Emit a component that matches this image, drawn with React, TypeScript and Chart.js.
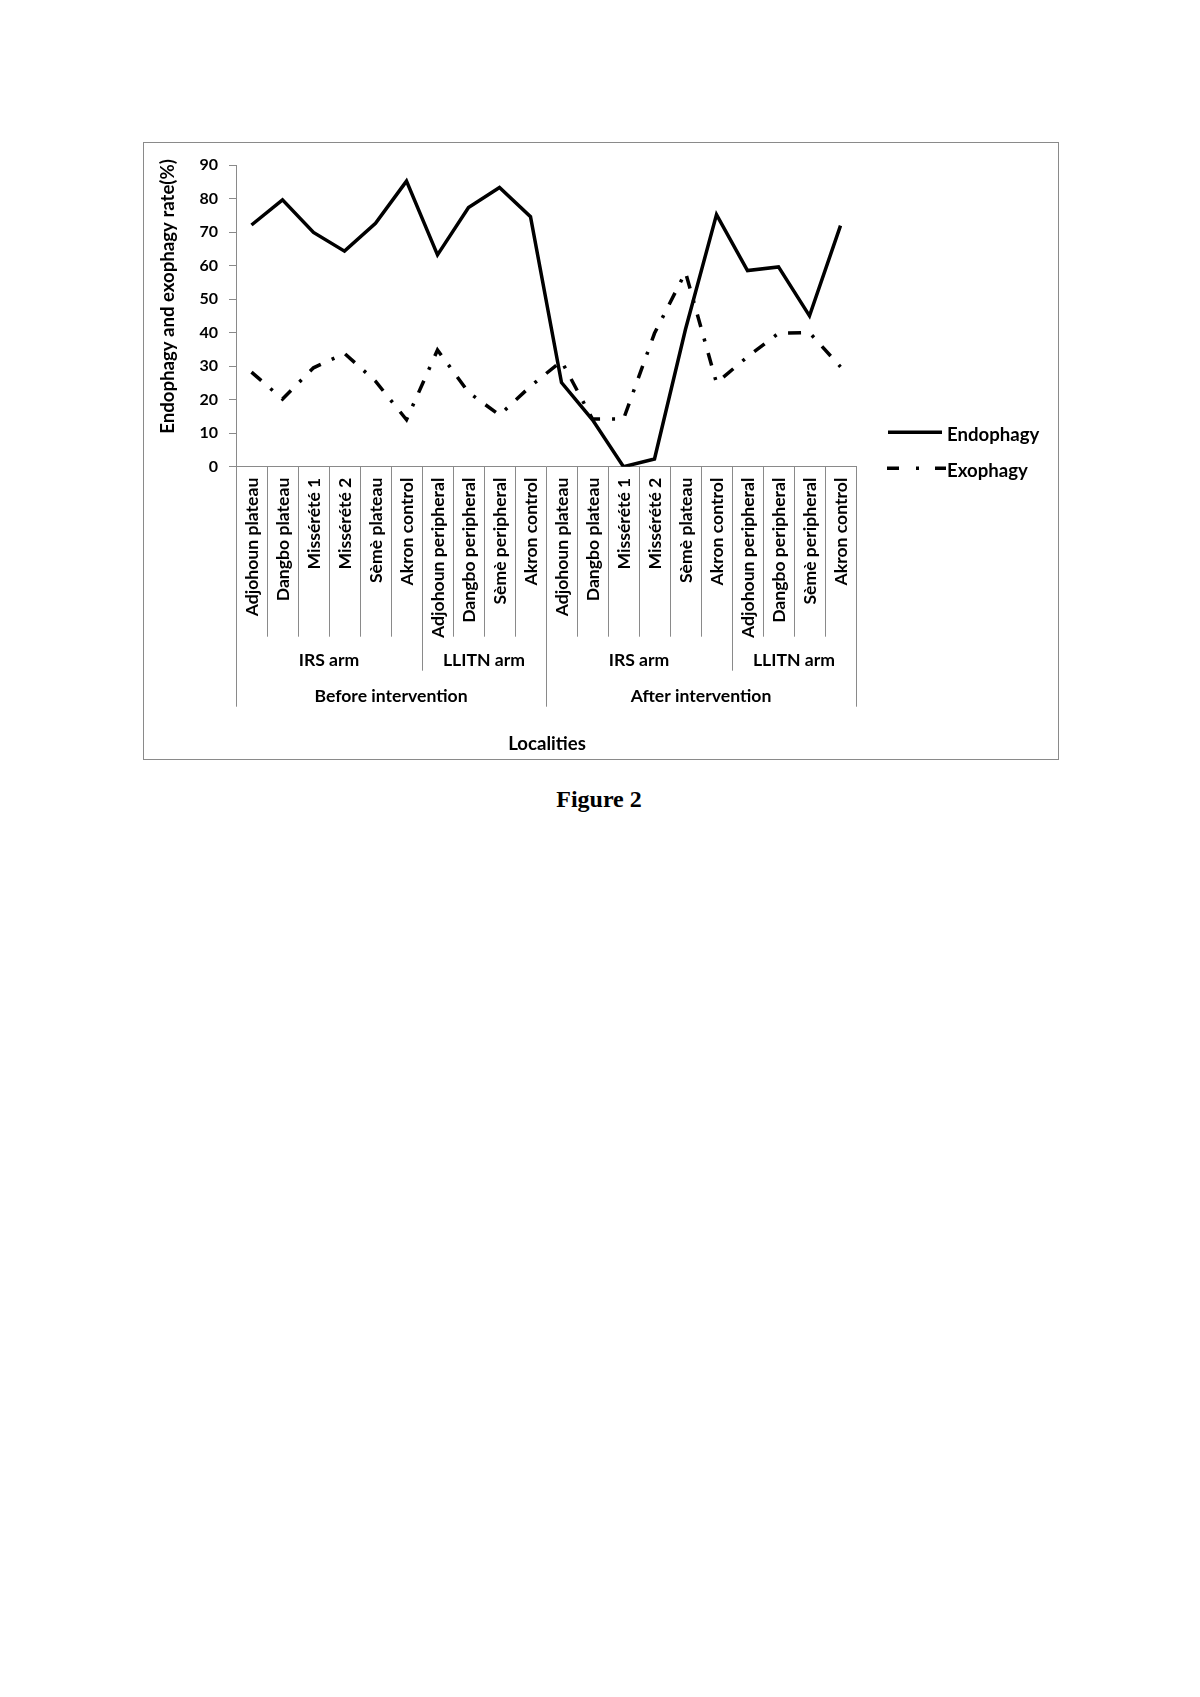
import React, { useEffect, useRef } from 'react';
import { Chart, registerables } from 'chart.js';

Chart.register(...registerables);

// ---- Data ----
const categories = [
  'Adjohoun plateau', 'Dangbo plateau', 'Missérété 1', 'Missérété 2', 'Sèmè plateau', 'Akron control',
  'Adjohoun peripheral', 'Dangbo peripheral', 'Sèmè peripheral', 'Akron control',
  'Adjohoun plateau', 'Dangbo plateau', 'Missérété 1', 'Missérété 2', 'Sèmè plateau', 'Akron control',
  'Adjohoun peripheral', 'Dangbo peripheral', 'Sèmè peripheral', 'Akron control',
];
const armLabels = ['IRS arm', 'LLITN arm', 'IRS arm', 'LLITN arm'];
const armSizes = [6, 4, 6, 4];
const periodLabels = ['Before intervention', 'After intervention'];
const periodSizes = [10, 10];

const endophagy = [72.1, 79.6, 69.9, 64.3, 72.6, 85.2, 63.2, 77.3, 83.3, 74.6, 25.1, 14.0, 0, 2.3, 41.0, 75.2, 58.5, 59.6, 45.0, 71.9];
const exophagy = [28.2, 20.2, 29.5, 33.8, 25.5, 14.0, 34.8, 22.2, 15.4, 24.0, 31.5, 14.2, 14.2, 39.8, 58.0, 25.0, 32.8, 39.8, 40.0, 29.8];

const yTicksMin = 0;
const yTicksMax = 90;
const yTicksStep = 10;

const seriesNames = ['Endophagy', 'Exophagy'];
const yTitle = 'Endophagy and exophagy rate(%)';
const xTitle = 'Localities';

const FONT = 'Lato';
const GRID = '#8a8a8a';

const hierPlugin = {
  id: 'hierAxis',
  afterDraw(chart: any) {
    const ctx = chart.ctx as CanvasRenderingContext2D;
    const xs = chart.scales.x;
    const area = chart.chartArea;
    const n = categories.length;
    const w = xs.getPixelForValue(1) - xs.getPixelForValue(0);
    const edge = (i: number) => (i < n ? xs.getPixelForValue(i) - w / 2 : xs.getPixelForValue(n - 1) + w / 2);

    const armBounds = new Set<number>();
    let acc = 0;
    armBounds.add(0);
    armSizes.forEach((s) => { acc += s; armBounds.add(acc); });
    const periodBounds = new Set<number>();
    acc = 0;
    periodBounds.add(0);
    periodSizes.forEach((s) => { acc += s; periodBounds.add(acc); });

    ctx.save();
    // dividers
    ctx.strokeStyle = GRID;
    ctx.lineWidth = 1;
    for (let b = 0; b <= n; b++) {
      let depth = 170;
      if (armBounds.has(b)) depth = 204;
      if (periodBounds.has(b)) depth = 240;
      const x = Math.round(edge(b)) + 0.5;
      ctx.beginPath();
      ctx.moveTo(x, area.bottom);
      ctx.lineTo(x, area.bottom + depth);
      ctx.stroke();
    }

    ctx.fillStyle = '#000';
    ctx.font = `bold 17.6px ${FONT}`;
    // category labels (rotated)
    for (let i = 0; i < n; i++) {
      const x = xs.getPixelForValue(i);
      ctx.save();
      ctx.translate(x, area.bottom + 11);
      ctx.rotate(-Math.PI / 2);
      ctx.textAlign = 'right';
      ctx.textBaseline = 'middle';
      ctx.fillText(categories[i], 0, 1);
      ctx.restore();
    }

    // arm labels
    ctx.textAlign = 'center';
    ctx.textBaseline = 'alphabetic';
    acc = 0;
    armSizes.forEach((s, k) => {
      const cx = (edge(acc) + edge(acc + s)) / 2;
      ctx.fillText(armLabels[k], cx, area.bottom + 199);
      acc += s;
    });
    // period labels
    acc = 0;
    periodSizes.forEach((s, k) => {
      const cx = (edge(acc) + edge(acc + s)) / 2;
      ctx.fillText(periodLabels[k], cx, area.bottom + 235);
      acc += s;
    });
    // x title
    ctx.font = `bold 18.6px ${FONT}`;
    ctx.fillText(xTitle, (area.left + area.right) / 2 + 1, area.bottom + 283.5);

    // y title
    ctx.save();
    ctx.translate(area.left - 68, area.top + 131.5);
    ctx.rotate(-Math.PI / 2);
    ctx.textAlign = 'center';
    ctx.textBaseline = 'middle';
    ctx.fillText(yTitle, 0, 0);
    ctx.restore();

    // legend
    const tx = area.right + 91;
    const y1 = area.bottom - 34.4;
    const y2 = area.bottom + 1.6;
    ctx.strokeStyle = '#000';
    ctx.lineWidth = 3.5;
    ctx.lineCap = 'butt';
    ctx.beginPath();
    ctx.moveTo(area.right + 32, y1);
    ctx.lineTo(area.right + 86, y1);
    ctx.stroke();
    ctx.setLineDash([12, 17, 3, 16, 12, 20]);
    ctx.beginPath();
    ctx.moveTo(area.right + 31, y2);
    ctx.lineTo(area.right + 90, y2);
    ctx.stroke();
    ctx.setLineDash([]);
    ctx.textAlign = 'left';
    ctx.textBaseline = 'alphabetic';
    ctx.fillText(seriesNames[0], tx, area.bottom - 25.5);
    ctx.fillText(seriesNames[1], tx, area.bottom + 10.2);
    ctx.restore();
  },
};

export default function App() {
  const ref = useRef<HTMLCanvasElement>(null);
  useEffect(() => {
    if (!ref.current) return;
    const chart = new Chart(ref.current, {
      type: 'line',
      data: {
        labels: categories,
        datasets: [
          {
            label: seriesNames[0],
            data: endophagy,
            borderColor: '#000',
            borderWidth: 3.5,
            pointRadius: 0,
            tension: 0,
            borderJoinStyle: 'miter',
            fill: false,
          },
          {
            label: seriesNames[1],
            data: exophagy,
            borderColor: '#000',
            borderWidth: 3.5,
            borderDash: [13, 12, 3, 12],
            borderCapStyle: 'butt',
            pointRadius: 0,
            tension: 0,
            borderJoinStyle: 'miter',
            fill: false,
          },
        ],
      },
      options: {
        responsive: false,
        animation: false,
        layout: { padding: { top: 22, right: 202, left: 0, bottom: 0 } },
        plugins: {
          legend: { display: false },
          tooltip: { enabled: false },
          title: { display: false },
        },
        scales: {
          x: {
            type: 'category',
            offset: true,
            grid: { display: false },
            border: { display: true, color: GRID, width: 1 },
            ticks: { display: false },
            afterFit: (s: any) => { s.height = 292.3; },
          },
          y: {
            min: yTicksMin,
            max: yTicksMax,
            ticks: {
              stepSize: yTicksStep,
              color: '#000',
              padding: 11,
              font: { family: FONT, weight: 'bold', size: 16 },
            },
            grid: { drawOnChartArea: false, drawTicks: true, tickLength: 7, color: GRID },
            border: { display: true, color: GRID, width: 1 },
            afterFit: (s: any) => { s.width = 92; },
          },
        },
      },
      plugins: [hierPlugin],
    } as any);
    return () => chart.destroy();
  }, []);

  return (
    <>
      <div
        style={{
          position: 'absolute',
          left: 143,
          top: 142,
          width: 916,
          height: 618,
          border: '1px solid #8a8a8a',
          boxSizing: 'border-box',
          background: '#fff',
        }}
      >
        <canvas ref={ref} width={914} height={616} style={{ display: 'block', width: 914, height: 616 }} />
      </div>
      <div
        style={{
          position: 'absolute',
          left: 0,
          top: 787,
          width: 1198,
          textAlign: 'center',
          fontFamily: '"Liberation Serif", "Times New Roman", serif',
          fontWeight: 'bold',
          fontSize: 24,
          lineHeight: '24px',
        }}
      >
        Figure 2
      </div>
    </>
  );
}
